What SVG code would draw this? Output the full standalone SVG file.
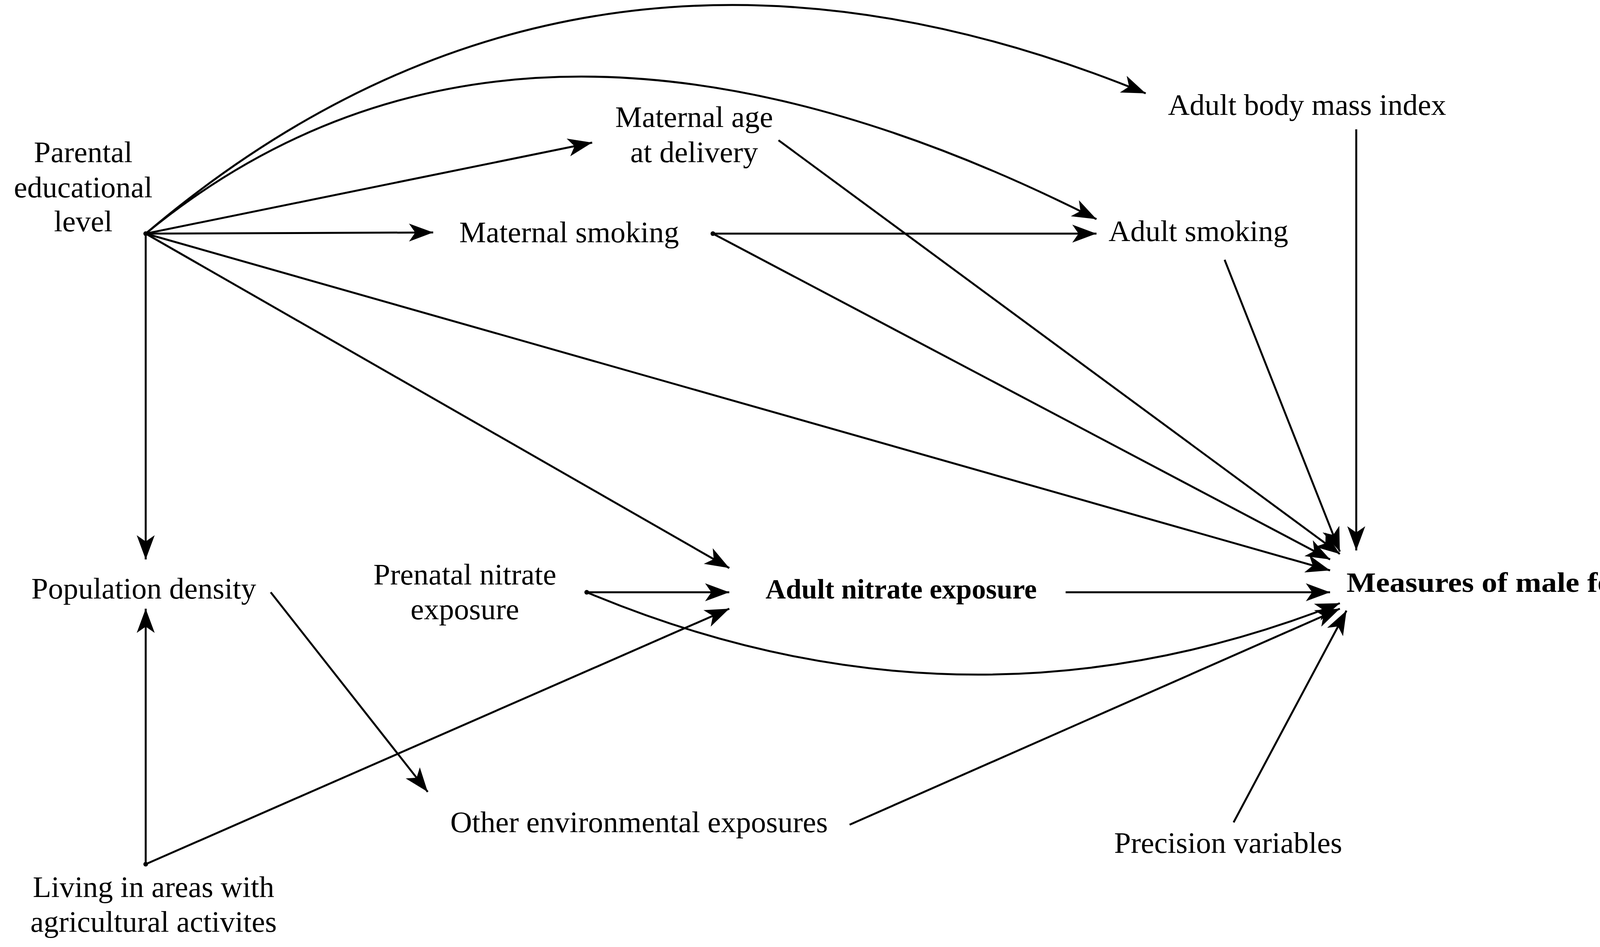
<svg xmlns="http://www.w3.org/2000/svg" width="4401" height="2424" viewBox="0 0 4401 2424">
<defs>
<style>
text{font-family:"Liberation Serif","Times New Roman",serif;font-size:77px;fill:#000;text-anchor:middle}
.b{font-weight:bold;font-size:72px}
.e{fill:none;stroke:#000;stroke-width:5;marker-end:url(#ah)}
</style>
<marker id="ah" viewBox="-65 -25 70 50" refX="0" refY="0" markerWidth="70" markerHeight="50" markerUnits="userSpaceOnUse" orient="auto">
<path d="M0,0 L-62,-23 L-46,0 L-62,23 Z" fill="#000"/>
</marker>
</defs>
<rect width="4401" height="2424" fill="#fff"/>
<g id="connectors">
<path class="e" d="M373,598 Q1490,-351 2933,239"/>
<path class="e" d="M373,598 Q1328,-187 2807,561"/>
<path class="e" d="M373,598 L1516,365"/>
<path class="e" d="M373,598 L1109,595"/>
<path class="e" d="M373,598 L373,1432"/>
<path class="e" d="M373,598 L1867,1454"/>
<path class="e" d="M373,598 L3405,1460"/>
<path class="e" d="M1993,359 L3430,1418"/>
<path class="e" d="M1825,598 L2807,598"/>
<path class="e" d="M1825,598 L3405,1432"/>
<path class="e" d="M3135,665 L3430,1412"/>
<path class="e" d="M3472,331 L3472,1409"/>
<path class="e" d="M1502,1516 L1867,1516"/>
<path class="e" d="M1502,1516 Q2473,1923 3430,1544"/>
<path class="e" d="M2728,1516 L3405,1516"/>
<path class="e" d="M693,1516 L1095,2027"/>
<path class="e" d="M373,2212 L373,1558"/>
<path class="e" d="M373,2212 L1867,1558"/>
<path class="e" d="M2175,2111 L3430,1558"/>
<path class="e" d="M3158,2105 L3447,1563"/>
<circle cx="373" cy="598" r="6"/>
<circle cx="1825" cy="598" r="6"/>
<circle cx="1502" cy="1516" r="6"/>
<circle cx="373" cy="2212" r="6"/>
</g>
<g id="parental"><text x="213" y="415">Parental</text><text x="213" y="505">educational</text><text x="213" y="592">level</text></g>
<g id="matage"><text x="1777" y="325">Maternal age</text><text x="1777" y="415">at delivery</text></g>
<g id="matsmoke"><text x="1457" y="620">Maternal smoking</text></g>
<g id="bmi"><text x="3346" y="294">Adult body mass index</text></g>
<g id="adultsmoke"><text x="3068" y="617">Adult smoking</text></g>
<g id="popdens"><text x="368" y="1532">Population density</text></g>
<g id="prenatal"><text x="1190" y="1496">Prenatal nitrate</text><text x="1190" y="1585">exposure</text></g>
<g id="adultnitrate"><text class="b" x="2307" y="1532">Adult nitrate exposure</text></g>
<g id="fecundity"><text class="b" x="3447" y="1515" style="text-anchor:start" textLength="935" lengthAdjust="spacingAndGlyphs">Measures of male fecundity</text></g>
<g id="otherenv"><text x="1636" y="2130">Other environmental exposures</text></g>
<g id="precision"><text x="3144" y="2183">Precision variables</text></g>
<g id="living"><text x="393" y="2296">Living in areas with</text><text x="393" y="2385">agricultural activites</text></g>
</svg>
